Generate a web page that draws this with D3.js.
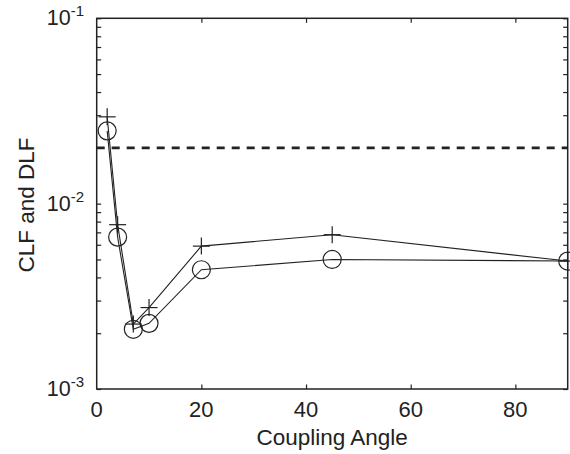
<!DOCTYPE html>
<html>
<head>
<meta charset="utf-8">
<script src="https://cdn.jsdelivr.net/npm/d3@7"></script>
<style>
  html, body { margin: 0; padding: 0; background: #fff; }
  svg { display: block; }
  text { font-family: "Liberation Sans", Arial, Helvetica, sans-serif; fill: #222; }
</style>
</head>
<body>
<svg id="chart" width="570" height="454"></svg>
<script>
// Coupling angles (degrees)
const angles = [2, 4, 7, 10, 20, 45, 90];
// Loss factors per angle: "+" markers and "o" markers
const clf = [0.0294, 0.0077, 0.00224, 0.00275, 0.0059, 0.0068, 0.0049];
const dlf = [0.0247, 0.0066, 0.0021, 0.00226, 0.0044, 0.0050, 0.0049];
// Horizontal reference level (dashed)
const refLevel = 0.02;
// Axis ticks
const xTicks = [0, 20, 40, 60, 80];
const yMajor = [1e-3, 1e-2, 1e-1];
const yExponents = ["-3", "-2", "-1"];

const W = 570, H = 454;
const m = { left: 96.7, right: W - 567.7, top: 18.3, bottom: H - 389 };
const ink = "#222";

const svg = d3.select("#chart");

const x = d3.scaleLinear().domain([0, 90]).range([m.left, W - m.right]);
const y = d3.scaleLog().domain([1e-3, 1e-1]).range([H - m.bottom, m.top]);

// minor log ticks 2..9 within each decade
const yMinor = [];
[1e-3, 1e-2].forEach(d => { for (let k = 2; k <= 9; k++) yMinor.push(d * k); });
const yAll = yMajor.concat(yMinor);

const tickLen = 4.5;
const frame = svg.append("g");

// Tick marks drawn inward on all four sides, via d3 axes with no labels
frame.append("g").attr("transform", `translate(0,${y.range()[0]})`)
  .call(d3.axisTop(x).tickValues(xTicks.filter(v => v > 0)).tickSize(tickLen).tickFormat(""))
  .call(g => g.select(".domain").remove());
frame.append("g").attr("transform", `translate(0,${y.range()[1]})`)
  .call(d3.axisBottom(x).tickValues(xTicks.filter(v => v > 0)).tickSize(tickLen).tickFormat(""))
  .call(g => g.select(".domain").remove());
frame.append("g").attr("transform", `translate(${x.range()[0]},0)`)
  .call(d3.axisRight(y).tickValues(yAll).tickSize(tickLen).tickFormat(""))
  .call(g => g.select(".domain").remove());
frame.append("g").attr("transform", `translate(${x.range()[1]},0)`)
  .call(d3.axisLeft(y).tickValues(yAll).tickSize(tickLen).tickFormat(""))
  .call(g => g.select(".domain").remove());
frame.selectAll(".tick line").attr("stroke", ink).attr("stroke-width", 1.2);

// Box
frame.append("rect")
  .attr("x", x.range()[0]).attr("y", y.range()[1])
  .attr("width", x.range()[1] - x.range()[0])
  .attr("height", y.range()[0] - y.range()[1])
  .attr("fill", "none").attr("stroke", ink).attr("stroke-width", 1.5);

// X tick labels
svg.append("g").selectAll("text").data(xTicks).join("text")
  .attr("x", d => x(d)).attr("y", 417)
  .attr("text-anchor", "middle").attr("font-size", 22)
  .text(d => d);

// Y tick labels as 10 with superscript exponent
const yl = svg.append("g").selectAll("text").data(yMajor).join("text")
  .attr("x", 84).attr("y", d => y(d) + 7)
  .attr("text-anchor", "end").attr("font-size", 21.5);
yl.append("tspan").text("10");
yl.append("tspan").attr("font-size", 15).attr("dy", -9).text((d, i) => yExponents[i]);

// Axis titles
svg.append("text")
  .attr("x", (x.range()[0] + x.range()[1]) / 2).attr("y", 445)
  .attr("text-anchor", "middle").attr("font-size", 22.5)
  .text("Coupling Angle");
svg.append("text")
  .attr("transform", `translate(34,${205}) rotate(-90)`)
  .attr("text-anchor", "middle").attr("font-size", 22.5)
  .text("CLF and DLF");

// Dashed reference level
svg.append("line")
  .attr("x1", x.range()[0]).attr("x2", x.range()[1])
  .attr("y1", y(refLevel)).attr("y2", y(refLevel))
  .attr("stroke", ink).attr("stroke-width", 2.6)
  .attr("stroke-dasharray", "8,7");

const line = d3.line().x(d => x(d[0])).y(d => y(d[1]));
const clfPts = angles.map((a, i) => [a, clf[i]]);
const dlfPts = angles.map((a, i) => [a, dlf[i]]);

[clfPts, dlfPts].forEach(pts => {
  svg.append("path").datum(pts).attr("d", line)
    .attr("fill", "none").attr("stroke", ink).attr("stroke-width", 1.1);
});

// "+" markers
const arm = 8.5;
const plus = svg.append("g").selectAll("g").data(clfPts).join("g")
  .attr("transform", d => `translate(${x(d[0])},${y(d[1])})`);
plus.append("line").attr("x1", -arm).attr("x2", arm).attr("stroke", ink).attr("stroke-width", 1.2);
plus.append("line").attr("y1", -arm).attr("y2", arm).attr("stroke", ink).attr("stroke-width", 1.2);

// "o" markers
svg.append("g").selectAll("circle").data(dlfPts).join("circle")
  .attr("cx", d => x(d[0])).attr("cy", d => y(d[1])).attr("r", 9)
  .attr("fill", "none").attr("stroke", ink).attr("stroke-width", 1.2);
</script>
</body>
</html>
